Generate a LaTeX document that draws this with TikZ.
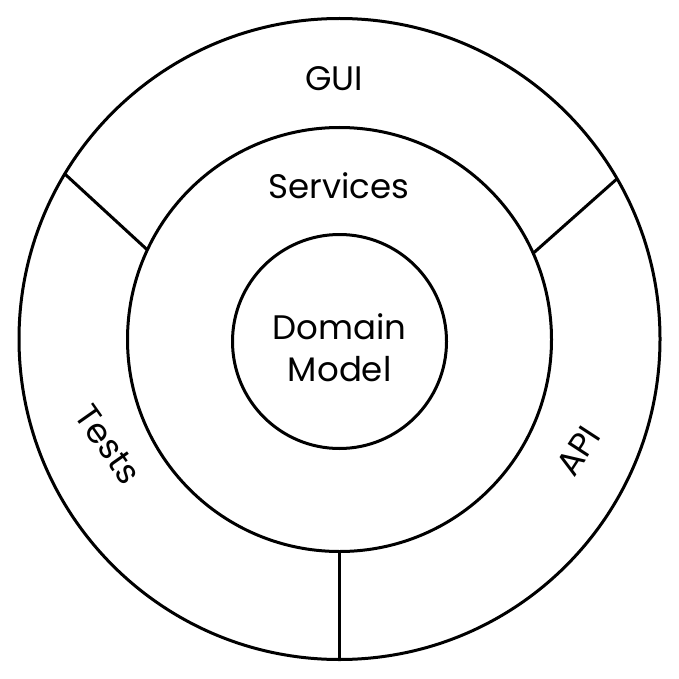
\documentclass[tikz,border=0pt]{standalone}
\usepackage{fontspec}
\setmainfont{Poppins}
\begin{document}
\begin{tikzpicture}[x=1pt,y=-1pt,
  ring/.style={circle,draw=black,line width=3pt,inner sep=0pt,outer sep=0pt},
  divider/.style={draw=black,line width=3pt},
  lbl/.style={font=\fontsize{34}{42.5}\selectfont,inner sep=0pt}]
\useasboundingbox (0,0) rectangle (678,679);
\node[ring,minimum size=641pt] (outer) at (339.5,339) {};
\node[ring,minimum size=424pt] (mid) at (339.5,339.5) {};
\node[ring,minimum size=214pt] (inner) at (339.5,341.5) {};
\draw[divider] (outer.149.4) -- (mid.155.2);
\draw[divider] (outer.30.9) -- (mid.24.9);
\draw[divider] (outer.270) -- (mid.270);
\node[lbl,anchor=base] (gui) at (334,90.6) {GUI};
\node[lbl,anchor=base] (services) at (339,198.5) {Services};
\node[lbl,anchor=base,align=center] (domain) at (339.7,381.5) {Domain\\Model};
\node[lbl,rotate=-55] (tests) at (108,444.5) {Tests};
\node[lbl,rotate=57] (api) at (578,451) {API};
\end{tikzpicture}
\end{document}
